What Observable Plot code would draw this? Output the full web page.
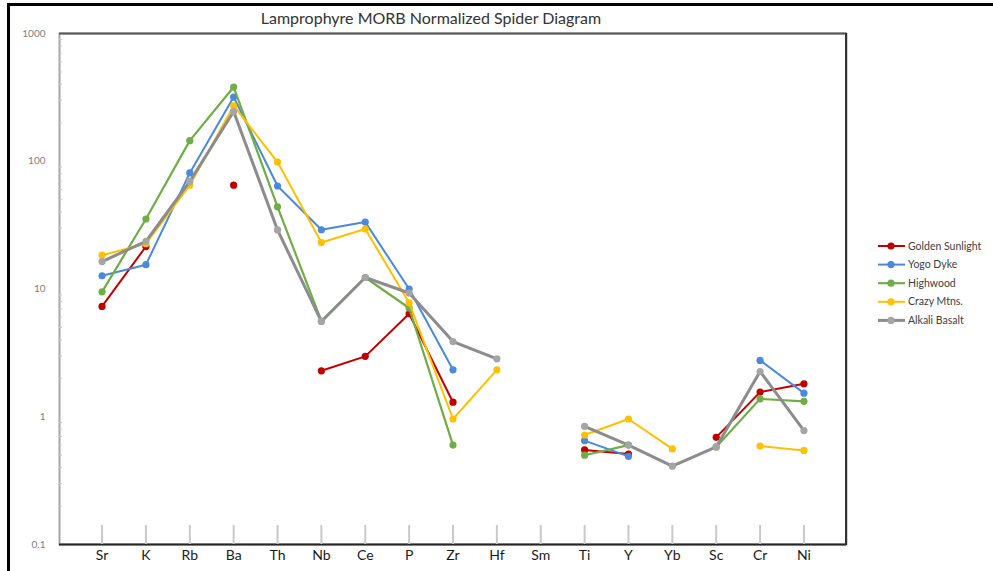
<!DOCTYPE html>
<html>
<head>
<meta charset="utf-8">
<script src="https://cdn.jsdelivr.net/npm/d3@7"></script>
<script src="https://cdn.jsdelivr.net/npm/@observablehq/plot@0.6"></script>
<style>
  html, body { margin: 0; padding: 0; background: #fff; }
  #wrap { position: relative; width: 993px; height: 571px; overflow: hidden; background: #fff; font-family: Lato, "Open Sans", sans-serif; }
  #edge { position: absolute; left: 7px; top: 3px; width: 1200px; height: 800px; border-left: 3px solid #000; border-top: 3px solid #000; pointer-events: none; }
  #title { position: absolute; top: 8px; left: 231px; width: 400px; text-align: center; font-size: 16px; color: #333; }
  #chart { position: absolute; left: 0; top: 0; }
  #legend { position: absolute; left: 870px; top: 234px; }
</style>
</head>
<body>
<div id="wrap">
  <div id="chart"></div>
  <div id="edge"></div>
  <div id="title">Lamprophyre MORB Normalized Spider Diagram</div>
  <div id="legend"></div>
</div>
<script>
// Elements along the x axis (MORB-normalized order)
const elements = ["Sr", "K", "Rb", "Ba", "Th", "Nb", "Ce", "P", "Zr", "Hf", "Sm", "Ti", "Y", "Yb", "Sc", "Cr", "Ni"];

// MORB-normalized abundances per suite (null = not analysed)
const goldenSunlight = [7.3, 21.5, null, 65, null, 2.29, 2.97, 6.4, 1.30, null, null, 0.55, 0.51, null, 0.69, 1.56, 1.81];
const yogoDyke       = [12.7, 15.5, 81, 318, 64, 29.1, 33.4, 10.0, 2.33, null, null, 0.65, 0.49, null, null, 2.76, 1.53];
const highwood       = [9.5, 35.3, 145, 381, 44, 5.6, 12.3, 7.1, 0.60, null, null, 0.50, 0.60, null, 0.58, 1.38, 1.32];
const crazyMtns      = [18.4, 22.6, 65, 272, 98.6, 23.1, 29.5, 7.8, 0.96, 2.33, null, 0.72, 0.96, 0.56, null, 0.59, 0.545];
const alkaliBasalt   = [16.4, 23.6, 69.5, 245, 29, 5.57, 12.3, 9.3, 3.88, 2.84, null, 0.84, 0.60, 0.41, 0.58, 2.26, 0.78];

const seriesNames = ["Golden Sunlight", "Yogo Dyke", "Highwood", "Crazy Mtns.", "Alkali Basalt"];
const seriesValues = [goldenSunlight, yogoDyke, highwood, crazyMtns, alkaliBasalt];

// Axis tick values
const yTicks = [0.1, 1, 10, 100, 1000];
const yMinorTicks = [0.2, 0.3, 0.4, 0.5, 0.6, 0.7, 0.8, 0.9, 2, 3, 4, 5, 6, 7, 8, 9, 20, 30, 40, 50, 60, 70, 80, 90, 200, 300, 400, 500, 600, 700, 800, 900];

const lineColors = ["#C00000", "#4A89DC", "#70AD47", "#FFC000", "#8C8C8C"];
const dotColors  = ["#C00000", "#4A89DC", "#70AD47", "#FFC000", "#A5A5A5"];
const lineWidths = [2, 2, 2.2, 2, 3];

const tables = seriesNames.map((name, s) =>
  elements.map((el, i) => ({element: el, value: seriesValues[s][i], series: name}))
);

const seriesMarks = tables.flatMap((rows, s) => [
  Plot.line(rows, {x: "element", y: "value", stroke: lineColors[s], strokeWidth: lineWidths[s]}),
  Plot.dot(rows.filter(d => d.value != null), {x: "element", y: "value", r: 3.6, fill: dotColors[s]})
]);

const chart = Plot.plot({
  width: 993,
  height: 571,
  marginLeft: 59,
  marginRight: 147,
  marginTop: 33,
  marginBottom: 27,
  style: {fontFamily: "Lato, 'Open Sans', sans-serif", background: "transparent"},
  x: {type: "point", domain: elements, padding: 0.97, round: false, label: null},
  y: {type: "log", domain: [0.1, 1000], label: null},
  marks: [
    Plot.frame({stroke: "#a6a6a6", strokeWidth: 2}),
    Plot.ruleY([1000], {stroke: "#595959", strokeWidth: 2}),
    Plot.ruleY([0.1], {stroke: "#262626", strokeWidth: 2}),
    Plot.frame({insetLeft: 786, stroke: "#333", strokeWidth: 1}),
    Plot.tickY(yMinorTicks, {y: d => d, insetRight: 784, stroke: "#c8c8c8"}),
    Plot.tickX(elements, {x: d => d, insetTop: 492, stroke: "#c9c9c9", strokeWidth: 2}),
    Plot.axisX({tickSize: 0, tickPadding: 6, fontSize: 14, fill: "#1a1a1a"}),
    Plot.axisY(yTicks, {tickSize: 0, tickPadding: 14, fontSize: 10, fill: "#7f7f7f", tickFormat: d => String(d)}),
    ...seriesMarks
  ]
});
document.getElementById("chart").append(chart);

// Legend: line with marker and label for each suite
const legendSvg = d3.select("#legend").append("svg")
  .attr("width", 123).attr("height", 100)
  .style("font-family", "Lato, 'Open Sans', sans-serif");
const item = legendSvg.selectAll("g").data(seriesNames).join("g")
  .attr("transform", (d, i) => `translate(0, ${12 + i * 18.6})`);
item.append("line").attr("x1", 8).attr("x2", 35).attr("y1", 0).attr("y2", 0)
  .attr("stroke", (d, i) => lineColors[i]).attr("stroke-width", (d, i) => lineWidths[i]);
item.append("circle").attr("cx", 21).attr("cy", 0).attr("r", 3.6)
  .attr("fill", (d, i) => dotColors[i]);
item.append("text").attr("x", 38).attr("y", 0).attr("dy", "0.35em")
  .attr("font-size", 10.5).attr("fill", "#404040").text(d => d);
</script>
</body>
</html>
